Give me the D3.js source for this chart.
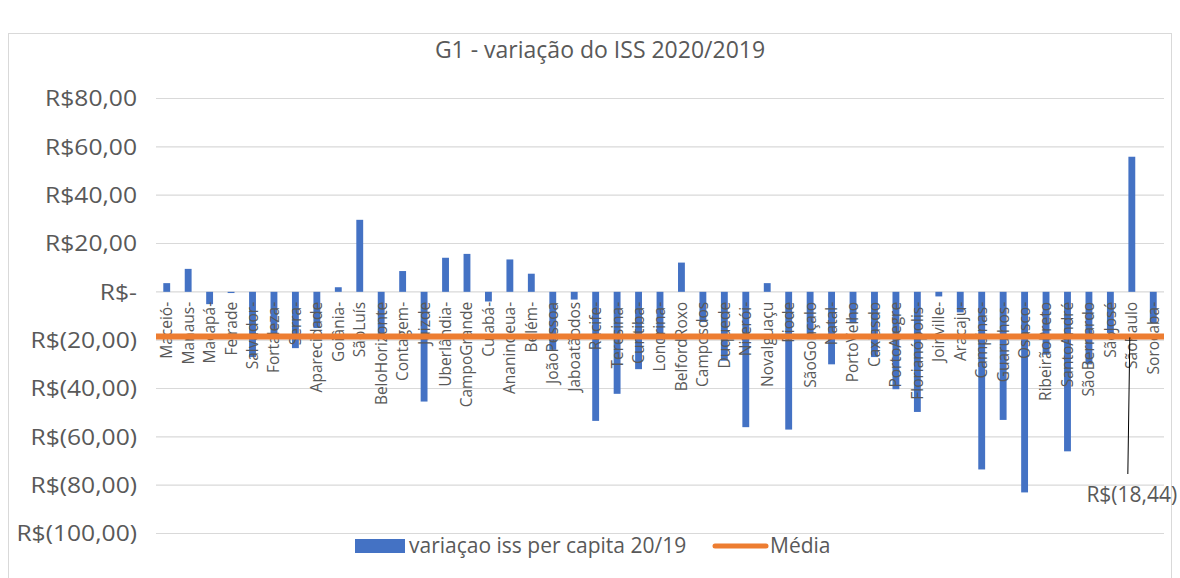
<!DOCTYPE html>
<html><head><meta charset="utf-8">
<script src="https://cdn.jsdelivr.net/npm/d3@7"></script>
<style>body{margin:0;background:#fff;} text{font-family:"Open Sans",Lato,sans-serif;fill:#595959;}</style>
</head><body>
<svg id="c" width="1180" height="578"></svg>
<script>
const categories = ["Maceió-","Manaus-","Macapá-","Feirade","Salvador-","Fortaleza-","Serra-","Aparecidade","Goiânia-","SãoLuís","BeloHorizonte","Contagem-","Juizde","Uberlândia-","CampoGrande","Cuiabá-","Ananindeua-","Belém-","JoãoPessoa","Jaboatãodos","Recife-","Teresina-","Curitiba-","Londrina-","BelfordRoxo","Camposdos","Duquede","Niterói-","NovaIguaçu","Riode","SãoGonçalo","Natal-","PortoVelho","Caxiasdo","PortoAlegre","Florianópolis-","Joinville-","Aracaju-","Campinas-","Guarulhos-","Osasco-","RibeirãoPreto","SantoAndré","SãoBernardo","SãoJosé","SãoPaulo","Sorocaba-"];
const values = [3.6,9.5,-5.1,-0.5,-27,-19,-23.3,-15,1.9,29.8,-18,8.6,-45.4,14.1,15.7,-4.0,13.4,7.5,-24,-3.2,-53.4,-42.2,-32,-20,12.1,-12.5,-28.5,-56,3.6,-57,-19,-30,-13,-27,-40.3,-49.7,-1.9,-8.5,-73.5,-53,-83,-26,-66,-30,-17,55.9,-13];
const mean = -18.44;
const yTicks = [80,60,40,20,0,-20,-40,-60,-80,-100];
const title = "G1 - variação do ISS 2020/2019";
const seriesName = "variaçao iss per capita 20/19";
const meanName = "Média";
const meanLabel = "R$(18,44)";

const svg = d3.select("#c");
svg.append("rect").attr("x",8.5).attr("y",33.5).attr("width",1163).attr("height",560)
  .attr("fill","#fff").attr("stroke","#d9d9d9").attr("stroke-width",1);

const x = d3.scaleBand().domain(categories).range([156,1164]).paddingInner(0.68).paddingOuter(0.34);
const y = d3.scaleLinear().domain([-100,80]).range([533.5,98.5]);

svg.append("text").attr("x",600).attr("y",50).attr("dy","0.35em").attr("text-anchor","middle")
  .style("font-size","23px").text(title);

svg.append("g").selectAll("line").data(yTicks).join("line")
  .attr("x1",156).attr("x2",1164).attr("y1",d=>y(d)).attr("y2",d=>y(d))
  .attr("stroke","#d9d9d9").attr("stroke-width",1.2);

const fmt = v => v===0 ? "R$-" : (v<0 ? "R$(" + d3.format(".2f")(-v).replace(".",",") + ")" : "R$" + d3.format(".2f")(v).replace(".",","));
svg.append("g").selectAll("text").data(yTicks).join("text")
  .attr("transform",d=>`translate(137,${y(d)}) scale(1.12,1)`)
  .attr("dy","0.35em").attr("text-anchor","end")
  .style("font-size","22px").text(fmt);

svg.append("g").selectAll("rect").data(values).join("rect")
  .attr("x",(d,i)=>x(categories[i])).attr("width",x.bandwidth())
  .attr("y",d=>y(Math.max(0,d))).attr("height",d=>Math.abs(y(d)-y(0)))
  .attr("fill","#4472c4");

svg.append("g").selectAll("text").data(categories).join("text")
  .attr("transform",d=>`translate(${x(d)+x.bandwidth()/2},${y(0)+10}) rotate(-90)`)
  .attr("text-anchor","end").attr("dy","0.35em")
  .style("font-size","15.5px").text(d=>d);

svg.append("line").attr("x1",156).attr("x2",1164).attr("y1",y(mean)).attr("y2",y(mean))
  .attr("stroke","#ed7d31").attr("stroke-width",6);

const ax = x("SãoPaulo")+x.bandwidth()/2;
svg.append("line").attr("x1",ax-2).attr("y1",y(mean)+1).attr("x2",ax-4).attr("y2",474)
  .attr("stroke","#000").attr("stroke-width",1);
svg.append("text").attr("x",ax).attr("y",495).attr("dy","0.35em").attr("text-anchor","middle")
  .style("font-size","21px").text(meanLabel);

svg.append("rect").attr("x",355).attr("y",539).attr("width",50).attr("height",14).attr("fill","#4472c4");
svg.append("text").attr("x",409).attr("y",546).attr("dy","0.35em").style("font-size","21px").text(seriesName);
svg.append("line").attr("x1",715).attr("x2",766).attr("y1",546).attr("y2",546)
  .attr("stroke","#ed7d31").attr("stroke-width",5).attr("stroke-linecap","round");
svg.append("text").attr("x",770).attr("y",546).attr("dy","0.35em").style("font-size","21px").text(meanName);
</script>
</body></html>
